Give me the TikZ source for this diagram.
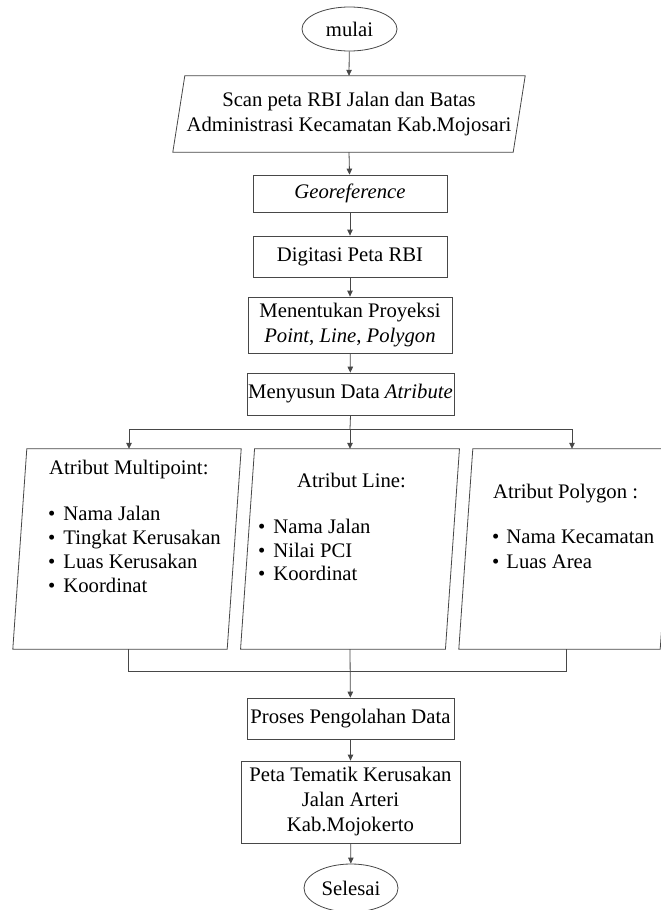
\documentclass[tikz,border=0pt]{standalone}
\usepackage{fontspec}
\setmainfont{Liberation Serif}
\usetikzlibrary{shapes.geometric,arrows.meta}
\newcommand\fsz{\fontsize{20.7}{25}\selectfont}
\tikzset{
  edge/.style={draw=black!72, line width=0.8pt},
  arr/.style={edge, -{Triangle[length=6pt,width=5.5pt]}},
  box/.style={edge, rectangle, inner sep=0pt, align=center, font=\fsz},
  hidden/.style={rectangle, inner sep=0pt, align=center, font=\fsz},
  term/.style={edge, ellipse, inner sep=0pt, font=\fsz},
  txt/.style={inner sep=0pt, anchor=base west, font=\fsz},
}
\begin{document}
\begin{tikzpicture}[x=1pt,y=-1pt]
\useasboundingbox (0,0) rectangle (661,910);
\clip (0,0) rectangle (661,910);
\fill[white] (0,0) rectangle (661,910);

% terminals
\node[term, minimum width=95pt, minimum height=44pt] (mulai) at (349.5,29) {mulai};
\node[term, minimum width=94pt, minimum height=48pt] (selesai) at (351,888) {Selesai};

% top parallelogram
\node[hidden, minimum width=340pt, minimum height=76pt] (scan) at (349,114)
  {Scan peta RBI Jalan dan Batas\\Administrasi Kecamatan Kab.Mojosari};
\draw[edge] ([xshift=6pt]scan.north west) -- ([xshift=6pt]scan.north east)
  -- ([xshift=-6pt]scan.south east) -- ([xshift=-6pt]scan.south west) -- cycle;

% process boxes
\node[box, minimum width=194pt, minimum height=37pt] (geo) at (350,193.5) {\itshape Georeference};
\node[box, minimum width=194pt, minimum height=41pt] (dig) at (350,256.5) {Digitasi Peta RBI};
\node[box, minimum width=204pt, minimum height=56pt] (proy) at (350,325)
  {Menentukan Proyeksi\\\textit{Point}, \textit{Line}, \textit{Polygon}};
\node[box, minimum width=207pt, minimum height=42pt, inner xsep=1pt] (susun) at (350.5,394)
  {Menyusun Data \textit{Atribute}};

% three attribute parallelograms
\node[hidden, minimum width=214pt, minimum height=200pt] (mp) at (127,549) {};
\draw[edge] ([xshift=7pt]mp.north west) -- ([xshift=7pt]mp.north east)
  -- ([xshift=-7pt]mp.south east) -- ([xshift=-7pt]mp.south west) -- cycle;
\node[hidden, minimum width=204.5pt, minimum height=200pt] (ln) at (350,549) {};
\draw[edge] ([xshift=7pt]ln.north west) -- ([xshift=7pt]ln.north east)
  -- ([xshift=-7pt]ln.south east) -- ([xshift=-7pt]ln.south west) -- cycle;
\node[hidden, minimum width=201pt, minimum height=200pt] (pg) at (566.5,549) {};
\draw[edge] ([xshift=7pt]pg.north west) -- ([xshift=7pt]pg.north east)
  -- ([xshift=-7pt]pg.south east) -- ([xshift=-7pt]pg.south west) -- cycle;

% texts in attribute boxes
\node[txt] (mpt) at (49,474) {Atribut Multipoint:};
\node[txt] (mp1) at (48,520) {\textbullet\hspace{8pt}Nama Jalan};
\node[txt] (mp2) at (48,544) {\textbullet\hspace{8pt}Tingkat Kerusakan};
\node[txt] (mp3) at (48,568) {\textbullet\hspace{8pt}Luas Kerusakan};
\node[txt] (mp4) at (48,592) {\textbullet\hspace{8pt}Koordinat};

\node[txt] (lnt) at (297,487) {Atribut Line:};
\node[txt] (ln1) at (258,533) {\textbullet\hspace{8pt}Nama Jalan};
\node[txt] (ln2) at (258,557) {\textbullet\hspace{8pt}Nilai PCI};
\node[txt] (ln3) at (258,580) {\textbullet\hspace{8pt}Koordinat};

\node[txt] (pgt) at (493,498) {Atribut Polygon :};
\node[txt] (pg1) at (492,543) {\textbullet\hspace{7pt}Nama Kecamatan};
\node[txt] (pg2) at (492,568) {\textbullet\hspace{7pt}Luas Area};

% lower boxes
\node[box, minimum width=207pt, minimum height=41pt, inner xsep=1pt] (proses) at (350.5,718.5) {Proses Pengolahan Data};
\node[box, minimum width=219pt, minimum height=82pt] (peta) at (350.5,802)
  {Peta Tematik Kerusakan\\Jalan Arteri\\Kab.Mojokerto};

% connectors
\draw[arr] (mulai) -- (scan.north);
\draw[arr] (scan.south) -- (geo);
\draw[arr] (geo) -- (dig);
\draw[arr] (dig) -- (proy);
\draw[arr] (proy) -- (susun);

\coordinate (split) at (350,429);
\draw[edge] (susun.south) -- (split);
\draw[arr] (split) -| ([xshift=2pt]mp.north);
\draw[arr] (split) -| ([xshift=5.5pt]pg.north);
\draw[arr] (split) -- (ln.north);

\coordinate (join) at (350,671);
\draw[edge] ([xshift=1pt]mp.south) |- (join);
\draw[edge] (pg.south) |- (join);
\draw[arr] (ln.south) -- (proses);
\draw[arr] (proses) -- (peta);
\draw[arr] (peta) -- (selesai);
\end{tikzpicture}
\end{document}
